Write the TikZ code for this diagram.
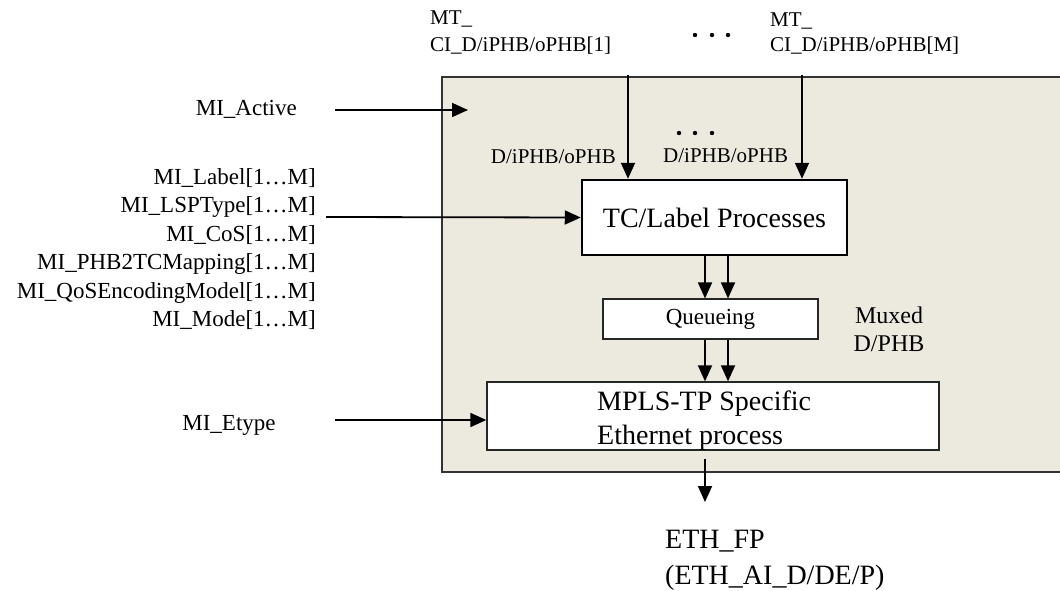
\documentclass[tikz,border=0pt]{standalone}
\usepackage{fontspec}
\setmainfont{Liberation Serif}
\usetikzlibrary{arrows.meta}
\definecolor{panel}{RGB}{236,233,223}
\tikzset{
  arr/.style={line width=1.8pt,-{Triangle[length=16pt,width=14pt]}},
  pbox/.style={draw,fill=white,inner sep=0pt},
  lbl/.style={inner sep=0pt,anchor=base west},
  fs/.style={font=\fontsize{#1pt}{#1pt}\selectfont}
}
\begin{document}
\begin{tikzpicture}[x=1pt,y=-1pt]
\useasboundingbox (0,0) rectangle (1060,591);
% panel
\fill[panel] (442,77) rectangle (1060,472);
\draw[line width=1.5pt,draw=black!80] (1060,77) -- (442,77) -- (442,472) -- (1060,472);
% boxes
\node[pbox,line width=2.5pt,minimum width=265pt,minimum height=75pt,fs=28] (tc) at (714.5,217.5) {TC/Label Processes};
\node[pbox,line width=1.2pt,draw=black!85,minimum width=215pt,minimum height=40pt,fs=23] (q) at (710.5,319) {Queueing};
\node[pbox,line width=1.3pt,draw=black!85,minimum width=452pt,minimum height=68pt] (mpls) at (713,416) {};
\node[lbl,fs=28] (m1) at (597,410) {MPLS-TP Specific};
\node[lbl,fs=28] (m2) at (597,444) {Ethernet process};
% top labels
\node[lbl,fs=21] (t1a) at (430,25) {MT\_};
\node[lbl,fs=21] (t1b) at (430,52) {CI\_D/iPHB/oPHB[1]};
\node[lbl,fs=21] (t2a) at (770,27) {MT\_};
\node[lbl,fs=21] (t2b) at (770,52) {CI\_D/iPHB/oPHB[M]};
\foreach \x in {695,712,728} \fill (\x,35) circle (2.2pt);
\foreach \x in {679,695,712} \fill (\x,133) circle (2.2pt);
\node[inner sep=0pt,anchor=base east,fs=21] (d1) at (616,164) {D/iPHB/oPHB};
\node[inner sep=0pt,anchor=base west,fs=21] (d2) at (663,163) {D/iPHB/oPHB};
% top arrows
\coordinate (c1) at (628,75);
\coordinate (c2) at (802,75);
\draw[arr] (c1) -- (c1 |- tc.north);
\draw[arr] (c2) -- (c2 |- tc.north);
% internal arrows
\coordinate (ia) at (705,0);
\coordinate (ib) at (728,0);
\draw[arr] (ia |- tc.south) -- (ia |- q.north);
\draw[arr] (ib |- tc.south) -- (ib |- q.north);
\draw[arr] (ia |- q.south) -- (ia |- mpls.north);
\draw[arr] (ib |- q.south) -- (ib |- mpls.north);
% muxed
\node[inner sep=0pt,anchor=base,fs=24] (mx1) at (889,323) {Muxed};
\node[inner sep=0pt,anchor=base,fs=24] (mx2) at (889,351) {D/PHB};
% left inputs
\node[inner sep=0pt,anchor=base east,fs=23] (act) at (297,116) {MI\_Active};
\coordinate (acts) at (335,110);
\coordinate (acte) at (468,110);
\draw[arr] (acts) -- (acte);
\node[inner sep=0pt,anchor=east,align=right,font=\fontsize{23pt}{28.5pt}\selectfont] (mi) at (316,249)
 {MI\_Label[1…M]\\MI\_LSPType[1…M]\\MI\_CoS[1…M]\\MI\_PHB2TCMapping[1…M]\\MI\_QoSEncodingModel[1…M]\\MI\_Mode[1…M]};
\coordinate (lsp) at (326,217);
\draw[arr] (lsp) -- (tc.west);
\node[inner sep=0pt,anchor=base,fs=23] (et) at (229,430) {MI\_Etype};
\coordinate (ets) at (335,420);
\draw[arr] (ets) -- (ets -| mpls.west);
% output
\coordinate (out) at (705,502);
\draw[arr,shorten <=8pt] (out |- mpls.south) -- (out);
\node[lbl,fs=28] (o1) at (665,548) {ETH\_FP};
\node[lbl,fs=28] (o2) at (665,584) {(ETH\_AI\_D/DE/P)};
\end{tikzpicture}
\end{document}
